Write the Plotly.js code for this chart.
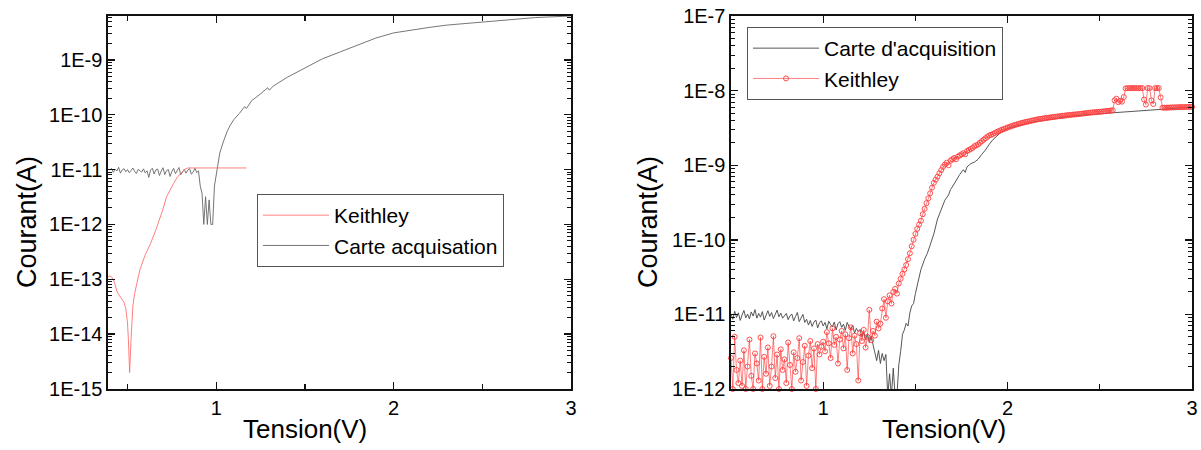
<!DOCTYPE html>
<html>
<head>
<meta charset="utf-8">
<script src="https://cdn.plot.ly/plotly-3.0.1.min.js"></script>
<style>html,body{margin:0;padding:0;background:#fff;}#chart{width:1201px;height:450px;}</style>
</head>
<body>
<div id="chart"></div>
<script>
// ---------- DATA ----------
// Left panel: Keithley (red line)
const leftKeithleyV = [0.39,0.40,0.41,0.42,0.43,0.44,0.45,0.46,0.47,0.48,0.49,0.50,0.505,0.512,0.52,0.525,0.53,0.54,0.55,0.57,0.60,0.63,0.66,0.68,0.70,0.72,0.74,0.76,0.78,0.80,0.82,0.84,0.86,1.17];
const leftKeithleyI = [1.1e-13,1.15e-13,1.1e-13,1.0e-13,8e-14,6e-14,5.3e-14,4.8e-14,4.4e-14,3.8e-14,3e-14,1.6e-14,8e-15,2e-15,8e-15,2e-14,3.2e-14,5.5e-14,8e-14,1.5e-13,2.8e-13,4.5e-13,8e-13,1.2e-12,1.9e-12,3.2e-12,4.3e-12,5.6e-12,7.2e-12,8.7e-12,1.0e-11,1.07e-11,1.07e-11,1.07e-11];

// Left panel: Carte acquisation (grey line)
const leftCarteV = [
 0.40,0.41,0.42,0.43,0.44,0.45,0.46,0.47,0.48,0.49,
 0.50,0.51,0.52,0.53,0.54,0.55,0.56,0.57,0.58,0.59,
 0.60,0.61,0.62,0.63,0.64,0.65,0.66,0.67,0.68,0.69,
 0.70,0.71,0.72,0.73,0.74,0.75,0.76,0.77,0.78,0.79,
 0.80,0.81,0.82,0.83,0.84,0.85,0.86,0.87,0.88,0.89,0.90,
 0.91,0.92,0.93,0.94,0.95,0.96,0.97,0.98,0.99,1.00,
 1.01,1.02,1.04,1.06,1.08,1.10,1.13,1.16,1.17,1.20,1.25,1.29,1.30,1.32,1.40,1.50,1.60,1.70,1.80,1.90,
 2.00,2.10,2.20,2.30,2.40,2.50,2.60,2.70,2.80,2.90,3.00];
const leftCarteI = [
 9.8e-12,10.5e-12,8.9e-12,10.2e-12,9.4e-12,11.0e-12,8.6e-12,9.9e-12,10.4e-12,9.1e-12,
 10.0e-12,8.8e-12,9.6e-12,10.7e-12,9.3e-12,8.5e-12,10.1e-12,9.7e-12,9.0e-12,10.3e-12,
 8.7e-12,9.5e-12,7.2e-12,9.8e-12,10.6e-12,8.3e-12,9.9e-12,10.2e-12,7.8e-12,9.4e-12,
 10.8e-12,8.1e-12,9.6e-12,10.0e-12,7.5e-12,9.2e-12,10.5e-12,8.4e-12,9.7e-12,10.9e-12,
 8.0e-12,9.3e-12,10.1e-12,8.6e-12,9.8e-12,10.4e-12,8.2e-12,9.0e-12,10.6e-12,8.8e-12,9.5e-12,
 5.0e-12,3.7e-12,1.0e-12,3.2e-12,1.0e-12,2.8e-12,1.0e-12,1.0e-12,5.0e-12,8.0e-12,
 1.3e-11,2.0e-11,3.2e-11,4.8e-11,6.5e-11,8.2e-11,1.05e-10,1.4e-10,1.3e-10,1.8e-10,2.4e-10,3.1e-10,2.8e-10,3.3e-10,4.8e-10,7.0e-10,1.05e-9,1.4e-9,1.9e-9,2.5e-9,
 3.1e-9,3.5e-9,3.9e-9,4.3e-9,4.6e-9,4.9e-9,5.3e-9,5.6e-9,5.9e-9,6.1e-9,6.3e-9];

// Right panel: Carte d'acquisition (dark line)
const rightCarteV = [
 0.50,0.51,0.52,0.53,0.54,0.55,0.56,0.57,0.58,0.59,
 0.60,0.61,0.62,0.63,0.64,0.65,0.66,0.67,0.68,0.69,
 0.70,0.71,0.72,0.73,0.74,0.75,0.76,0.77,0.78,0.79,
 0.80,0.81,0.82,0.83,0.84,0.85,0.86,0.87,0.88,0.89,
 0.90,0.91,0.92,0.93,0.94,0.95,0.96,0.97,0.98,0.99,
 1.00,1.01,1.02,1.03,1.04,1.05,1.06,1.07,1.08,1.09,
 1.10,1.11,1.12,1.13,1.14,1.15,1.16,1.17,1.18,1.19,
 1.20,1.21,1.22,1.23,1.24,1.25,1.26,1.27,1.28,1.29,1.30,
 1.31,1.32,1.33,1.34,1.35,1.36,1.37,1.38,1.39,1.40,1.41,1.42,1.43,1.44,1.45,1.46,1.47,1.48,1.49,1.50,
 1.51,1.52,1.53,1.55,1.565,1.58,1.60,1.62,1.64,1.66,1.68,1.69,1.71,1.72,1.74,1.76,1.77,1.78,1.80,1.82,
 1.84,1.86,1.88,1.90,1.92,1.96,2.00,2.04,2.08,2.14,2.20,2.33,2.45,2.60,2.72,2.83,3.00];
const rightCarteI = [
 10.2e-12,8.6e-12,11.0e-12,9.1e-12,10.5e-12,8.3e-12,9.8e-12,11.3e-12,9.0e-12,10.1e-12,
 8.7e-12,10.8e-12,9.5e-12,11.6e-12,8.9e-12,10.3e-12,9.2e-12,10.9e-12,8.4e-12,9.9e-12,
 11.2e-12,9.4e-12,10.6e-12,8.8e-12,10.0e-12,11.4e-12,9.3e-12,10.4e-12,8.9e-12,9.7e-12,
 10.3e-12,8.5e-12,9.6e-12,10.1e-12,8.2e-12,9.4e-12,10.6e-12,8.0e-12,9.1e-12,10.0e-12,
 7.8e-12,8.6e-12,7.2e-12,8.3e-12,6.9e-12,7.9e-12,8.4e-12,6.6e-12,7.7e-12,8.2e-12,
 7.0e-12,7.8e-12,6.4e-12,8.1e-12,7.3e-12,6.8e-12,7.9e-12,6.2e-12,7.5e-12,8.0e-12,
 6.7e-12,7.4e-12,6.1e-12,7.8e-12,6.9e-12,6.3e-12,7.2e-12,5.6e-12,6.5e-12,5.9e-12,
 6.3e-12,5.0e-12,5.8e-12,4.6e-12,5.5e-12,4.2e-12,5.1e-12,3.9e-12,3.2e-12,2.4e-12,3.3e-12,
 2.2e-12,3.0e-12,2.4e-12,2.9e-12,0.8e-12,1.6e-12,0.8e-12,1.9e-12,0.8e-12,0.8e-12,2.1e-12,3.2e-12,5.4e-12,6.2e-12,7.6e-12,7.0e-12,10.5e-12,13e-12,14e-12,19e-12,
 25e-12,33e-12,40e-12,55e-12,66e-12,85e-12,120e-12,190e-12,250e-12,340e-12,400e-12,470e-12,560e-12,620e-12,750e-12,870e-12,800e-12,950e-12,1050e-12,1100e-12,
 1200e-12,1400e-12,1600e-12,1900e-12,2200e-12,2700e-12,3100e-12,3300e-12,3500e-12,3800e-12,4000e-12,4500e-12,4800e-12,5100e-12,5400e-12,5600e-12,6000e-12];

// Right panel: Keithley (red, open circles), sampled every 0.01 V from 0.5 V
const rightKeithleyStartV = 0.5;
const rightKeithleyStepV = 0.01;
const rightKeithleyI = [
 // 0.50 - 1.00
 2.6e-12,1.0e-12,5.0e-12,1.8e-12,1.2e-12,2.4e-12,1.1e-12,3.3e-12,1.0e-12,2.0e-12,
 4.6e-12,1.5e-12,1.0e-12,3.0e-12,2.2e-12,1.3e-12,4.9e-12,1.0e-12,2.7e-12,1.6e-12,
 3.6e-12,1.1e-12,2.0e-12,5.1e-12,1.4e-12,2.9e-12,1.0e-12,3.4e-12,1.8e-12,2.5e-12,
 1.2e-12,4.2e-12,2.1e-12,1.0e-12,3.1e-12,1.7e-12,2.6e-12,4.8e-12,1.3e-12,2.3e-12,
 3.8e-12,1.1e-12,2.8e-12,4.4e-12,1.9e-12,3.5e-12,1.0e-12,4.0e-12,2.9e-12,3.7e-12,4.3e-12,
 // 1.01 - 1.30
 3.2e-12,5.8e-12,4.1e-12,2.6e-12,6.5e-12,3.9e-12,5.0e-12,2.2e-12,4.6e-12,6.0e-12,
 3.5e-12,5.4e-12,1.8e-12,4.8e-12,6.7e-12,3.0e-12,5.2e-12,4.0e-12,1.3e-12,5.6e-12,
 4.4e-12,6.2e-12,3.6e-12,5.0e-12,11.5e-12,4.5e-12,6.0e-12,5.2e-12,8.0e-12,6.5e-12,
 // 1.31 - 1.60
 7.5e-12,12e-12,16e-12,9e-12,15e-12,18e-12,14e-12,20e-12,22e-12,19e-12,
 26e-12,30e-12,35e-12,40e-12,46e-12,55e-12,66e-12,82e-12,100e-12,120e-12,
 140e-12,160e-12,180e-12,220e-12,260e-12,310e-12,360e-12,420e-12,500e-12,580e-12,
 // 1.61 - 1.90
 0.64e-9,0.70e-9,0.78e-9,0.86e-9,0.95e-9,1.02e-9,1.08e-9,1.0e-9,1.15e-9,1.2e-9,
 1.25e-9,1.2e-9,1.3e-9,1.35e-9,1.4e-9,1.45e-9,1.4e-9,1.55e-9,1.6e-9,1.65e-9,
 1.7e-9,1.8e-9,1.85e-9,1.9e-9,2.0e-9,2.1e-9,2.2e-9,2.3e-9,2.4e-9,2.5e-9,
 // 1.91 - 2.20
 2.55e-9,2.62e-9,2.7e-9,2.78e-9,2.85e-9,2.92e-9,3.0e-9,3.06e-9,3.12e-9,3.2e-9,
 3.27e-9,3.33e-9,3.4e-9,3.46e-9,3.52e-9,3.58e-9,3.64e-9,3.7e-9,3.75e-9,3.8e-9,
 3.85e-9,3.9e-9,3.95e-9,4.0e-9,4.05e-9,4.1e-9,4.14e-9,4.18e-9,4.22e-9,4.26e-9,
 // 2.21 - 2.57
 4.3e-9,4.33e-9,4.36e-9,4.4e-9,4.43e-9,4.46e-9,4.5e-9,4.53e-9,4.56e-9,4.6e-9,
 4.63e-9,4.66e-9,4.7e-9,4.72e-9,4.75e-9,4.78e-9,4.8e-9,4.83e-9,4.86e-9,4.9e-9,
 4.93e-9,4.96e-9,5.0e-9,5.03e-9,5.06e-9,5.1e-9,5.12e-9,5.15e-9,5.18e-9,5.2e-9,
 5.23e-9,5.26e-9,5.3e-9,5.33e-9,5.36e-9,5.4e-9,5.45e-9,
 // 2.58 - 2.84
 7.4e-9,7.8e-9,7.0e-9,7.3e-9,7.1e-9,8.2e-9,1.07e-8,1.08e-8,1.08e-8,1.08e-8,
 1.08e-8,1.08e-8,1.08e-8,1.08e-8,1.08e-8,1.08e-8,7.6e-9,6.5e-9,1.08e-8,1.08e-8,
 7.4e-9,6.6e-9,1.08e-8,1.08e-8,1.08e-8,8.1e-9,5.9e-9,
 // 2.85 - 3.00
 5.9e-9,5.9e-9,5.92e-9,5.92e-9,5.95e-9,5.95e-9,5.97e-9,5.97e-9,6.0e-9,6.0e-9,
 6.0e-9,6.02e-9,6.02e-9,6.05e-9,6.05e-9,6.05e-9];

// Tick labels
const xTickVals = [1, 2, 3];
const xTickText = ['1', '2', '3'];
const xMinorVals = [0.5, 1.5, 2.5];
const leftYTickVals = [1e-15, 1e-14, 1e-13, 1e-12, 1e-11, 1e-10, 1e-9];
const leftYTickText = ['1E-15', '1E-14', '1E-13', '1E-12', '1E-11', '1E-10', '1E-9'];
const rightYTickVals = [1e-12, 1e-11, 1e-10, 1e-9, 1e-8, 1e-7];
const rightYTickText = ['1E-12', '1E-11', '1E-10', '1E-9', '1E-8', '1E-7'];

// ---------- STYLE / LAYOUT ----------
const FONT = '"Liberation Sans", Arial, sans-serif';
function logMinor(lo, hi) {
  const v = [];
  for (let e = lo; e <= hi; e++) for (let m = 2; m <= 9; m++) v.push(m * Math.pow(10, e));
  return v;
}
const W = 1201, H = 450;
const px = x => x / W;
const py = y => 1 - y / H;

const axisBase = {
  showline: true, linecolor: '#111', linewidth: 1.6, mirror: 'allticks',
  ticks: 'inside', tickcolor: '#111', tickwidth: 1.4, ticklen: 7,
  showgrid: false, zeroline: false,
  tickfont: {family: FONT, size: 20, color: '#000'}
};

const traces = [
  {x: leftCarteV, y: leftCarteI, type: 'scatter', mode: 'lines', name: 'Carte acquisation',
   line: {color: '#666', width: 0.9}, xaxis: 'x', yaxis: 'y', legend: 'legend', legendrank: 2},
  {x: leftKeithleyV, y: leftKeithleyI, type: 'scatter', mode: 'lines', name: 'Keithley',
   line: {color: '#ff7070', width: 0.9}, xaxis: 'x', yaxis: 'y', legend: 'legend', legendrank: 1},
  {x: rightCarteV, y: rightCarteI, type: 'scatter', mode: 'lines', name: "Carte d'acquisition",
   line: {color: '#444', width: 0.9}, xaxis: 'x2', yaxis: 'y2', legend: 'legend2', legendrank: 1},
  {x0: rightKeithleyStartV, dx: rightKeithleyStepV, y: rightKeithleyI, type: 'scatter', mode: 'lines+markers',
   name: 'Keithley', cliponaxis: false,
   line: {color: 'rgba(255,40,40,0.75)', width: 0.8},
   marker: {symbol: 'circle-open', size: 5, color: '#ff3b3b', line: {width: 0.9}},
   xaxis: 'x2', yaxis: 'y2', legend: 'legend2', legendrank: 2}
];

const legendBase = {
  xanchor: 'left', yanchor: 'top', bordercolor: '#555', borderwidth: 1,
  bgcolor: 'rgba(255,255,255,0)', font: {family: FONT, size: 21, color: '#000'},
  tracegroupgap: 0, itemwidth: 66, traceorder: 'normal'
};

const titleFont = {family: FONT, size: 26, color: '#000'};
const layout = {
  width: W, height: H,
  margin: {l: 0, r: 0, t: 0, b: 0},
  paper_bgcolor: '#fff', plot_bgcolor: '#fff',
  font: {family: FONT, color: '#000'},
  showlegend: true,
  xaxis: Object.assign({}, axisBase, {
    domain: [px(108), px(571)], range: [0.39, 3], anchor: 'y',
    tickmode: 'array', tickvals: xTickVals, ticktext: xTickText,
    minor: {tickmode: 'array', tickvals: xMinorVals, ticks: 'inside', ticklen: 5, tickcolor: '#111', tickwidth: 1.2}
  }),
  yaxis: Object.assign({}, axisBase, {
    domain: [py(389), py(16)], type: 'log', range: [-15, Math.log10(6.3e-9)], anchor: 'x',
    tickmode: 'array', tickvals: leftYTickVals, ticktext: leftYTickText,
    minor: {tickmode: 'array', tickvals: logMinor(-15, -9), ticks: 'inside', ticklen: 4, tickcolor: '#111', tickwidth: 1}
  }),
  xaxis2: Object.assign({}, axisBase, {
    domain: [px(731), px(1192)], range: [0.5, 3], anchor: 'y2',
    tickmode: 'array', tickvals: xTickVals, ticktext: xTickText,
    minor: {tickmode: 'array', tickvals: xMinorVals, ticks: 'inside', ticklen: 5, tickcolor: '#111', tickwidth: 1.2}
  }),
  yaxis2: Object.assign({}, axisBase, {
    domain: [py(389), py(16)], type: 'log', range: [-12, -7], anchor: 'x2',
    tickmode: 'array', tickvals: rightYTickVals, ticktext: rightYTickText,
    minor: {tickmode: 'array', tickvals: logMinor(-12, -8), ticks: 'inside', ticklen: 4, tickcolor: '#111', tickwidth: 1}
  }),
  legend: Object.assign({}, legendBase, {x: px(257), y: py(194)}),
  legend2: Object.assign({}, legendBase, {x: px(747), y: py(27)}),
  annotations: [
    {text: 'Courant(A)', x: px(27), y: py(222), xref: 'paper', yref: 'paper', showarrow: false,
     xanchor: 'center', yanchor: 'middle', textangle: -90, font: {family: FONT, size: 27, color: '#000'}},
    {text: 'Tension(V)', x: px(305), y: py(429), xref: 'paper', yref: 'paper', showarrow: false,
     xanchor: 'center', yanchor: 'middle', font: titleFont},
    {text: 'Courant(A)', x: px(648), y: py(222), xref: 'paper', yref: 'paper', showarrow: false,
     xanchor: 'center', yanchor: 'middle', textangle: -90, font: {family: FONT, size: 27, color: '#000'}},
    {text: 'Tension(V)', x: px(944), y: py(429), xref: 'paper', yref: 'paper', showarrow: false,
     xanchor: 'center', yanchor: 'middle', font: titleFont}
  ]
};

Plotly.newPlot('chart', traces, layout, {staticPlot: true, displayModeBar: false});
</script>
</body>
</html>
